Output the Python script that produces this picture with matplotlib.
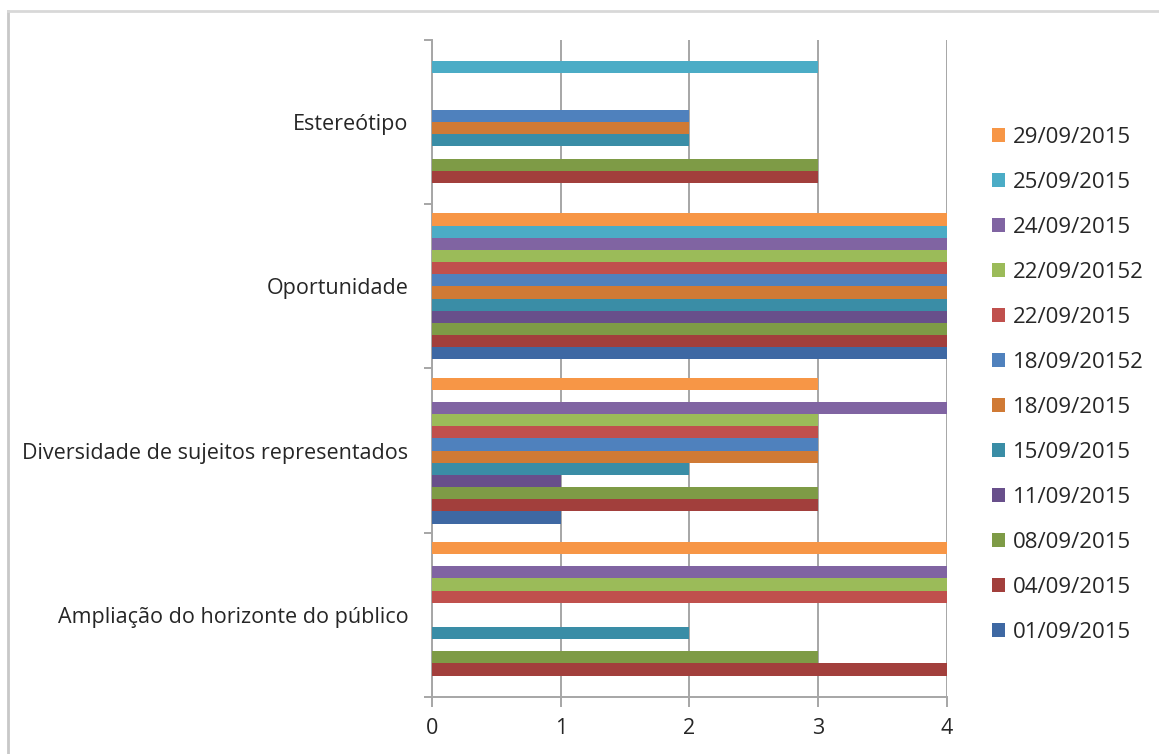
import numpy as np
import matplotlib.pyplot as plt
from matplotlib.patches import Patch
from matplotlib.lines import Line2D

plt.rcParams['font.family'] = ['Open Sans', 'DejaVu Sans']

categorias = ['Ampliação do horizonte do público',
              'Diversidade de sujeitos representados',
              'Oportunidade',
              'Estereótipo']

datas = ['01/09/2015', '04/09/2015', '08/09/2015', '11/09/2015',
         '15/09/2015', '18/09/2015', '18/09/20152', '22/09/2015',
         '22/09/20152', '24/09/2015', '25/09/2015', '29/09/2015']

# one list per date, values for each category (bottom to top)
valores = {
    '01/09/2015':  [0, 1, 4, 0],
    '04/09/2015':  [4, 3, 4, 3],
    '08/09/2015':  [3, 3, 4, 3],
    '11/09/2015':  [0, 1, 4, 0],
    '15/09/2015':  [2, 2, 4, 2],
    '18/09/2015':  [0, 3, 4, 2],
    '18/09/20152': [0, 3, 4, 2],
    '22/09/2015':  [4, 3, 4, 0],
    '22/09/20152': [4, 3, 4, 0],
    '24/09/2015':  [4, 4, 4, 0],
    '25/09/2015':  [0, 0, 4, 3],
    '29/09/2015':  [4, 3, 4, 0],
}

cores = ['#3E68A3', '#A23F3C', '#7E9B46', '#684F8B', '#3A8DA6', '#D07A35',
         '#4F81BD', '#C0504D', '#9BBB59', '#8064A2', '#4BACC6', '#F79646']

fig = plt.figure(figsize=(11.59, 7.54), dpi=100)
ax = fig.add_axes([0.3727, 0.0756, 0.4444, 0.8714])

y = np.arange(len(categorias))
h = 0.074
for i, d in enumerate(datas):
    ax.barh(y + (i - 5.5) * h, valores[d], height=h, color=cores[i],
            zorder=3)

grid_cor = '#A6A6A6'
texto_cor = '#262626'
ax.set_xlim(0, 4)
ax.set_ylim(-0.5, 3.5)
ax.set_xticks([0, 1, 2, 3, 4])
ax.set_yticks(y)
ax.set_yticklabels(categorias)
ax.set_yticks(np.arange(-0.5, 3.6, 1), minor=True)
ax.xaxis.grid(True, color=grid_cor, linewidth=1.4, zorder=0)

for s in ['top', 'right']:
    ax.spines[s].set_visible(False)
for s in ['left', 'bottom']:
    ax.spines[s].set_color(grid_cor)
    ax.spines[s].set_linewidth(1.4)

ax.tick_params(axis='y', which='major', length=0, pad=17, labelsize=15.5,
               labelcolor=texto_cor)
ax.tick_params(axis='y', which='minor', length=6, width=1.4, color=grid_cor)
ax.tick_params(axis='x', length=7, width=1.4, color=grid_cor, pad=8,
               labelsize=15.5, labelcolor=texto_cor)

handles = [Patch(facecolor=cores[i]) for i in range(len(datas))][::-1]
fig.legend(handles, datas[::-1], loc='center left',
           bbox_to_anchor=(0.848, 0.49), frameon=False, fontsize=16,
           handlelength=0.6, handleheight=0.6, handletextpad=0.35,
           labelspacing=1.08, labelcolor=texto_cor, borderaxespad=0)

# borda cinza esquerda e superior
fig.add_artist(Line2D([0.007, 0.007], [0, 0.986], transform=fig.transFigure,
                      color='#C8C8C8', linewidth=2))
fig.add_artist(Line2D([0.007, 1], [0.986, 0.986], transform=fig.transFigure,
                      color='#D8D8D8', linewidth=2))

fig.savefig('out.png', dpi=100)
